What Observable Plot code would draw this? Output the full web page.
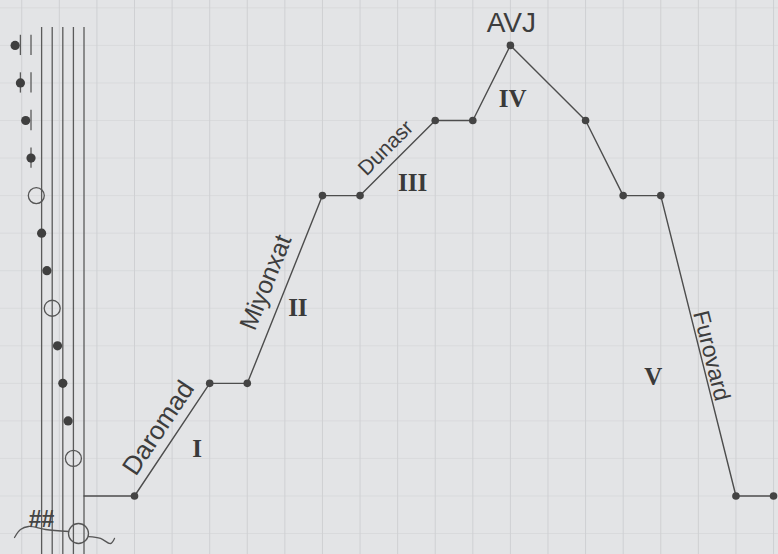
<!DOCTYPE html>
<html><head><meta charset="utf-8">
<script src="https://cdn.jsdelivr.net/npm/d3@7"></script>
<script src="https://cdn.jsdelivr.net/npm/@observablehq/plot@0.6"></script>
<style>
html,body{margin:0;padding:0;background:#e3e4e6;}
#chart svg{display:block;}
</style></head><body><div id="chart"></div>
<script>
// Melodic contour: beat column and scale step above the tonic
const beats = [0, 2, 3, 5, 6, 8, 9, 10, 12, 13, 14, 16, 17];
const steps = [0, 3, 3, 8, 8, 10, 10, 12, 10, 8, 8, 0, 0];
// section names written along rising / falling segments
const sectionNames = ["Daromad", "Miyonxat", "Dunasr", "Furovard"];
const sectionSegments = [0, 2, 4, 10];
const peakName = "AVJ";
const peakIndex = 7;
const romanNumerals = ["I", "II", "III", "IV", "V"];
const romanSegments = [0, 2, 4, 6, 10];
// scale notes on the rotated staff (steps above the tonic)
const noteSteps = [1, 2, 3, 4, 5, 6, 7, 8, 9, 10, 11, 12];
const noteOpen  = [true, false, false, false, true, false, false, true, false, false, false, false];
const staffLineSteps = [7, 5, 3, 1, -1];
const ledgerLineSteps = [9, 11];
const keySignature = "##";
const gridColumns = d3.range(-3, 18);
const gridSteps = d3.range(-1, 14);

// staff geometry: a pitch step k sits at this column on the rotated staff
const staffCol = k => -1.3434 - 0.141 * (k + 1);

const points = beats.map((b, i) => ({beat: b, step: steps[i]}));
const mid = i => ({beat: (beats[i] + beats[i + 1]) / 2, step: (steps[i] + steps[i + 1]) / 2});
const notes = noteSteps.map((k, i) => ({k, open: noteOpen[i]}));
const ledgers = [];
for (const n of notes) for (const l of ledgerLineSteps) if (n.k >= l) ledgers.push({k: n.k, l});
// treble clef drawn lying along the staff (staff-pitch, step)
const clefStroke = [[12.11,-1.105],[10.98,-0.892],[9.47,-0.812],[6.26,-0.892],[1.92,-0.945]];
const clefTail = [[-1.85,-1.08],[-4.11,-1.13],[-6.0,-1.265],[-6.75,-1.13]];
const clefLoop = [[0.04,-0.999]];

const ink = "#4d4d4d";
const textFont = "'Liberation Sans', Arial, sans-serif";
const serifFont = "'Liberation Serif', 'Times New Roman', serif";

const labelMark = (i, opts) => Plot.text([mid(sectionSegments[i])], {
  x: "beat", y: "step", text: () => sectionNames[i], fill: "#3d3d3d",
  fontFamily: textFont, textAnchor: "middle", lineAnchor: "middle", ...opts
});
const romanOffsets = [[25, 9], [13, 19], [15, 25], [21, 16], [-45, 31]];
const romanMarks = romanNumerals.map((r, i) => Plot.text([mid(romanSegments[i])], {
  x: "beat", y: "step", text: () => r, fill: "#3a3a3a", fontFamily: serifFont,
  fontWeight: "bold", fontSize: 25, textAnchor: "middle", lineAnchor: "middle",
  dx: romanOffsets[i][0], dy: romanOffsets[i][1]
}));

const chart = Plot.plot({
  width: 778, height: 554, margin: 0,
  x: {domain: [-3.565, 17.132], axis: null},
  y: {domain: [-1.558, 13.196], axis: null},
  style: {background: "#e3e4e6", overflow: "visible"},
  marks: [
    Plot.ruleY(gridSteps, {stroke: "#d9dadc", strokeWidth: 1}),
    Plot.ruleX(gridColumns, {stroke: "#cfd0d3", strokeWidth: 1}),
    // staff
    Plot.ruleX(staffLineSteps, {x: k => staffCol(k), y1: -1.6, y2: 12.48, stroke: "#5a5a5a", strokeWidth: 1.3}),
    Plot.ruleX(ledgers, {x: d => staffCol(d.l), y1: d => d.k - 0.27, y2: d => d.k + 0.27, stroke: "#5a5a5a", strokeWidth: 1.3}),
    Plot.dot(notes.filter(d => !d.open), {x: d => staffCol(d.k), y: "k", r: 4.6, fill: "#3f3f3f"}),
    Plot.dot(notes.filter(d => d.open), {x: d => staffCol(d.k), y: "k", r: 8, stroke: "#555", strokeWidth: 1.3, fill: "none"}),
    Plot.line(clefStroke, {x: d => staffCol(d[0]), y: d => d[1], curve: "catmull-rom", stroke: "#555", strokeWidth: 1.3}),
    Plot.line(clefTail, {x: d => staffCol(d[0]), y: d => d[1], curve: "catmull-rom", stroke: "#555", strokeWidth: 1.3}),
    Plot.dot(clefLoop, {x: d => staffCol(d[0]), y: d => d[1], r: 10, stroke: "#555", strokeWidth: 1.3, fill: "none"}),
    Plot.text([{k: 7.02, s: -0.626}], {x: d => staffCol(d.k), y: "s", text: () => keySignature, fontSize: 23, fontWeight: "bold", fontFamily: textFont, fill: "#444", textAnchor: "middle", lineAnchor: "middle"}),
    // connector from the staff to the tonic
    Plot.ruleY([0], {x1: staffCol(-1), x2: beats[0], stroke: ink, strokeWidth: 1.3}),
    // contour
    Plot.line(points, {x: "beat", y: "step", stroke: ink, strokeWidth: 1.4}),
    Plot.dot(points, {x: "beat", y: "step", r: 3.8, fill: "#444"}),
    // labels
    labelMark(0, {rotate: -56.2, fontSize: 26, dx: -13.6, dy: -11.75}),
    labelMark(1, {rotate: -68.1, fontSize: 25, dx: -19, dy: -7}),
    labelMark(2, {rotate: -44.9, fontSize: 21, dx: -12, dy: -10}),
    labelMark(3, {rotate: 75.9, fontSize: 23, dx: 13, dy: 10}),
    Plot.text([points[peakIndex]], {x: "beat", y: "step", text: () => peakName, fontSize: 28, fontFamily: textFont, fill: "#3d3d3d", textAnchor: "middle", lineAnchor: "middle", dx: 1, dy: -22}),
    ...romanMarks
  ]
});
document.getElementById("chart").appendChild(chart);
</script></body></html>
